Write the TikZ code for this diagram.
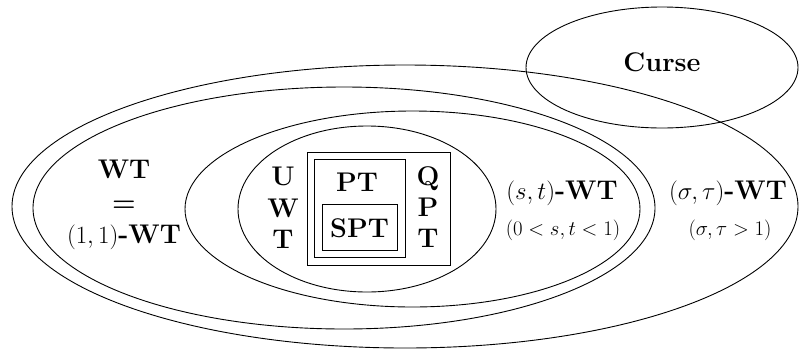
\documentclass[tikz,border=0pt]{standalone}
\usetikzlibrary{shapes.geometric}
\begin{document}
\begin{tikzpicture}[x=1pt,y=-1pt,
  set/.style={draw, ellipse, line width=0.9pt, inner sep=0pt},
  box/.style={draw, rectangle, line width=0.9pt, inner sep=0pt},
  lbl/.style={font=\fontsize{27}{32.5}\selectfont, align=center, inner sep=0pt},
  sub/.style={font=\fontsize{21}{25}\selectfont, inner sep=0pt}]
\useasboundingbox (0,0) rectangle (802,349);
% ellipses
\node[set, minimum width=786pt, minimum height=283pt] (outer) at (405,206.5) {};
\node[set, minimum width=622pt, minimum height=242pt] (second) at (344,208) {};
\node[set, minimum width=455pt, minimum height=196pt] (third) at (412.5,209) {};
\node[set, minimum width=258pt, minimum height=166pt] (fourth) at (367,209) {};
\node[set, minimum width=272pt, minimum height=121pt] (curse) at (662,67.5) {};
% boxes
\node[box, minimum width=143pt, minimum height=113pt] (qpt) at (378.5,208.5) {};
\node[box, minimum width=91pt, minimum height=98pt] (pt) at (359.5,208.5) {};
\node[box, minimum width=75pt, minimum height=46pt] (spt) at (359.5,227) {};
% labels
\node[lbl] (cursetxt) at (662,62) {\textbf{Curse}};
\node[lbl] (pttxt) at (357,182) {\textbf{PT}};
\node[lbl] (spttxt) at (359.5,228) {\textbf{SPT}};
\node[lbl, font=\fontsize{27}{31.5}\selectfont] (uwt) at (283,208) {\textbf{U}\\\textbf{W}\\\textbf{T}};
\node[lbl, font=\fontsize{27}{31}\selectfont] (qptxt) at (428,207) {\textbf{Q}\\\textbf{P}\\\textbf{T}};
\node[lbl] (wt) at (124,205) {\textbf{WT}\\\textbf{=}\\$(1,1)$\textbf{-WT}};
\node[lbl] (stwt) at (562,193) {$(s,t)$\textbf{-WT}};
\node[sub] (stsub) at (563,230) {$(0<s,t<1)$};
\node[lbl] (swt) at (728,193) {$(\sigma,\tau)$\textbf{-WT}};
\node[sub] (swsub) at (730,230) {$(\sigma,\tau>1)$};
\end{tikzpicture}
\end{document}
